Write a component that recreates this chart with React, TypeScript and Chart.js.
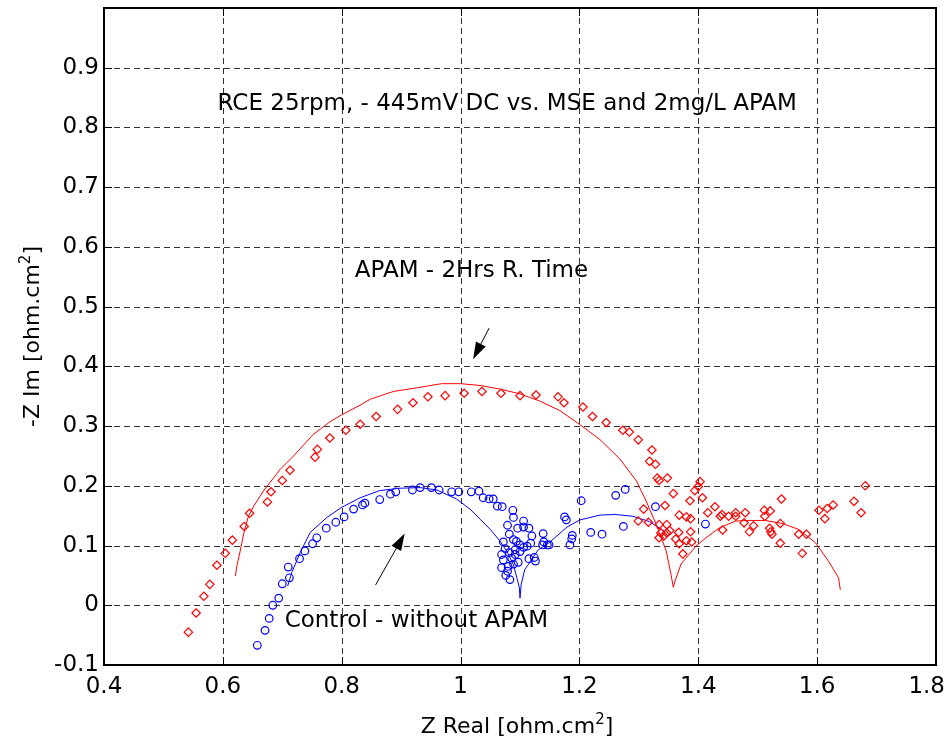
import React, { useEffect, useRef } from "react";
import { Chart, registerables } from "chart.js";

Chart.register(...registerables);

const FONT = "'DejaVu Sans', sans-serif";

const xTicks = [0.4, 0.6, 0.8, 1.0, 1.2, 1.4, 1.6, 1.8];
const xTickLabels = ["0.4", "0.6", "0.8", "1", "1.2", "1.4", "1.6", "1.8"];
const yTicks = [-0.1, 0, 0.1, 0.2, 0.3, 0.4, 0.5, 0.6, 0.7, 0.8, 0.9, 1.0];
const yTickLabels = ["-0.1", "0", "0.1", "0.2", "0.3", "0.4", "0.5", "0.6", "0.7", "0.8", "0.9", ""];

const xTitle = "Z Real [ohm.cm";
const yTitle = "-Z Im [ohm.cm";
const titleSup = "2";
const titleEnd = "]";

// APAM - 2 Hrs: measured (diamonds)
const apamMeasured: [number, number][] = [
  [0.542, -0.045], [0.555, -0.013], [0.568, 0.015], [0.578, 0.035], [0.590, 0.067],
  [0.604, 0.087], [0.616, 0.109], [0.636, 0.132], [0.645, 0.154], [0.675, 0.173],
  [0.681, 0.190], [0.700, 0.209], [0.713, 0.226], [0.755, 0.248], [0.759, 0.261],
  [0.780, 0.280], [0.807, 0.293], [0.831, 0.303], [0.858, 0.316], [0.894, 0.328],
  [0.920, 0.339], [0.945, 0.349], [0.974, 0.351], [1.006, 0.355], [1.036, 0.358],
  [1.068, 0.355], [1.100, 0.351], [1.127, 0.352], [1.164, 0.349], [1.174, 0.339],
  [1.206, 0.332], [1.222, 0.316], [1.245, 0.306], [1.273, 0.293], [1.284, 0.290],
  [1.299, 0.277], [1.322, 0.260], [1.318, 0.241], [1.328, 0.236], [1.331, 0.213],
  [1.334, 0.209], [1.348, 0.213], [1.358, 0.187], [1.308, 0.161], [1.344, 0.167],
  [1.299, 0.141], [1.316, 0.139], [1.334, 0.135], [1.347, 0.135], [1.337, 0.121],
  [1.334, 0.113], [1.342, 0.116], [1.352, 0.125], [1.347, 0.121], [1.368, 0.151],
  [1.367, 0.122], [1.362, 0.111], [1.368, 0.103], [1.374, 0.086], [1.380, 0.108],
  [1.387, 0.123], [1.380, 0.148], [1.387, 0.145], [1.386, 0.175], [1.394, 0.192],
  [1.400, 0.199], [1.403, 0.207], [1.407, 0.180], [1.389, 0.106],
  [1.416, 0.155], [1.428, 0.165], [1.437, 0.149], [1.440, 0.152], [1.441, 0.126],
  [1.451, 0.149], [1.463, 0.155], [1.463, 0.149], [1.477, 0.138], [1.479, 0.155],
  [1.486, 0.123], [1.493, 0.133], [1.511, 0.159], [1.512, 0.149], [1.521, 0.158],
  [1.520, 0.129], [1.522, 0.123], [1.524, 0.119], [1.538, 0.137], [1.538, 0.104],
  [1.540, 0.178], [1.569, 0.119], [1.575, 0.087], [1.582, 0.119], [1.603, 0.159],
  [1.613, 0.145], [1.617, 0.162], [1.627, 0.168], [1.662, 0.174], [1.674, 0.155],
  [1.681, 0.200],
];

// APAM - 2 Hrs: fitted curve
const apamFit: [number, number][] = [
  [0.621, 0.049], [0.624, 0.068], [0.629, 0.090], [0.636, 0.124], [0.643, 0.149],
  [0.652, 0.166], [0.668, 0.191], [0.696, 0.227], [0.719, 0.250], [0.752, 0.286],
  [0.780, 0.307], [0.800, 0.319], [0.831, 0.335], [0.848, 0.345], [0.887, 0.358],
  [0.926, 0.364], [0.968, 0.371], [1.000, 0.371], [1.033, 0.368], [1.066, 0.362],
  [1.100, 0.354], [1.133, 0.342], [1.167, 0.326], [1.200, 0.303], [1.235, 0.277],
  [1.268, 0.245], [1.296, 0.208], [1.312, 0.175], [1.329, 0.136], [1.346, 0.091],
  [1.354, 0.052], [1.358, 0.030], [1.361, 0.041], [1.371, 0.069], [1.396, 0.099],
  [1.413, 0.113], [1.436, 0.130], [1.463, 0.141], [1.484, 0.142], [1.513, 0.142],
  [1.541, 0.137], [1.569, 0.127], [1.597, 0.105], [1.619, 0.074], [1.636, 0.046],
  [1.639, 0.026],
];

// Control: measured (circles)
const controlMeasured: [number, number][] = [
  [0.658, -0.067], [0.671, -0.042], [0.678, -0.022], [0.684, 0.0], [0.694, 0.012],
  [0.700, 0.036], [0.712, 0.046], [0.710, 0.064], [0.729, 0.078], [0.738, 0.091],
  [0.751, 0.103], [0.758, 0.113], [0.774, 0.129], [0.790, 0.139], [0.804, 0.148],
  [0.820, 0.161], [0.835, 0.168], [0.839, 0.171], [0.864, 0.177], [0.882, 0.186],
  [0.891, 0.190], [0.919, 0.193], [0.932, 0.197], [0.951, 0.197], [0.964, 0.193],
  [0.985, 0.190], [0.997, 0.190], [1.018, 0.190], [1.031, 0.191], [1.038, 0.180],
  [1.048, 0.178], [1.055, 0.178], [1.062, 0.166], [1.070, 0.165], [1.088, 0.159],
  [1.089, 0.147], [1.079, 0.134], [1.106, 0.141], [1.106, 0.131], [1.082, 0.119],
  [1.096, 0.129], [1.115, 0.129], [1.120, 0.116], [1.072, 0.106], [1.089, 0.110],
  [1.092, 0.093], [1.100, 0.101], [1.106, 0.097], [1.112, 0.099], [1.118, 0.104],
  [1.075, 0.095], [1.069, 0.085], [1.072, 0.076], [1.069, 0.063], [1.079, 0.057],
  [1.076, 0.050], [1.083, 0.043], [1.086, 0.079], [1.097, 0.072], [1.089, 0.069],
  [1.080, 0.065], [1.082, 0.088], [1.092, 0.085], [1.100, 0.090], [1.094, 0.107],
  [1.139, 0.120], [1.140, 0.106], [1.146, 0.101], [1.149, 0.101], [1.138, 0.101],
  [1.115, 0.078], [1.124, 0.080], [1.126, 0.074], [1.175, 0.148], [1.178, 0.143],
  [1.188, 0.117], [1.187, 0.111], [1.184, 0.101], [1.203, 0.175], [1.261, 0.184],
  [1.277, 0.194], [1.274, 0.132], [1.219, 0.122], [1.238, 0.119], [1.328, 0.165],
  [1.412, 0.136],
];

// Control: fitted curve
const controlFit: [number, number][] = [
  [0.709, 0.032], [0.716, 0.055], [0.730, 0.088], [0.747, 0.122], [0.775, 0.147],
  [0.800, 0.164], [0.831, 0.180], [0.864, 0.192], [0.898, 0.196], [0.932, 0.197],
  [0.960, 0.193], [0.993, 0.178], [1.016, 0.161], [1.033, 0.144], [1.050, 0.127],
  [1.066, 0.108], [1.078, 0.090], [1.089, 0.068], [1.095, 0.045], [1.099, 0.029],
  [1.100, 0.012], [1.102, 0.035], [1.108, 0.060], [1.114, 0.068], [1.120, 0.078],
  [1.131, 0.093], [1.148, 0.104], [1.162, 0.116], [1.179, 0.131], [1.201, 0.143],
  [1.235, 0.151], [1.260, 0.152], [1.290, 0.149], [1.318, 0.140], [1.343, 0.124],
];

// annotations (anchor in data units, left edge / vertical middle)
const noteTexts = [
  "RCE 25rpm, - 445mV DC vs. MSE and 2mg/L APAM",
  "APAM - 2Hrs R. Time",
  "Control - without APAM",
];
const noteX = [0.591, 0.822, 0.704];
const noteY = [0.839, 0.559, -0.026];

// arrows: tail -> head, in data units
const arrowTail: [number, number][] = [[1.048, 0.464], [0.857, 0.034]];
const arrowHead: [number, number][] = [[1.021, 0.412], [0.906, 0.120]];

const toXY = (arr: [number, number][]) => arr.map(([x, y]) => ({ x, y }));

function drawArrow(ctx: CanvasRenderingContext2D, x1: number, y1: number, x2: number, y2: number) {
  const ang = Math.atan2(y2 - y1, x2 - x1);
  const L = 17;
  const W = 5.5;
  const c = Math.cos(ang);
  const s = Math.sin(ang);
  ctx.beginPath();
  ctx.moveTo(x1, y1);
  ctx.lineTo(x2 - L * 0.7 * c, y2 - L * 0.7 * s);
  ctx.stroke();
  ctx.beginPath();
  ctx.moveTo(x2, y2);
  ctx.lineTo(x2 - L * c + W * s, y2 - L * s - W * c);
  ctx.lineTo(x2 - L * c - W * s, y2 - L * s + W * c);
  ctx.closePath();
  ctx.fill();
}

function drawTitle(ctx: CanvasRenderingContext2D, main: string, cx: number, base: number) {
  ctx.font = `22px ${FONT}`;
  const w1 = ctx.measureText(main).width;
  ctx.font = `15px ${FONT}`;
  const w2 = ctx.measureText(titleSup).width;
  ctx.font = `22px ${FONT}`;
  const w3 = ctx.measureText(titleEnd).width;
  const total = w1 + w2 + w3;
  let x = cx - total / 2;
  ctx.textAlign = "left";
  ctx.textBaseline = "alphabetic";
  ctx.fillText(main, x, base);
  x += w1;
  ctx.font = `15px ${FONT}`;
  ctx.fillText(titleSup, x, base - 9);
  x += w2;
  ctx.font = `22px ${FONT}`;
  ctx.fillText(titleEnd, x, base);
}

const framePlugin = {
  id: "matlabFrame",
  beforeDatasetsDraw(chart: any) {
    const { ctx, chartArea: a, scales } = chart;
    const xs = scales.x;
    const ys = scales.y;
    ctx.save();
    ctx.strokeStyle = "#333";
    ctx.lineWidth = 1;
    ctx.setLineDash([6, 4]);
    xTicks.forEach((v) => {
      const px = Math.round(xs.getPixelForValue(v)) + 0.5;
      if (px < a.left + 2 || px > a.right - 2) return;
      ctx.beginPath();
      ctx.moveTo(px, a.top);
      ctx.lineTo(px, a.bottom);
      ctx.stroke();
    });
    yTicks.forEach((v) => {
      const py = Math.round(ys.getPixelForValue(v)) + 0.5;
      if (py < a.top + 2 || py > a.bottom - 2) return;
      ctx.beginPath();
      ctx.moveTo(a.left, py);
      ctx.lineTo(a.right, py);
      ctx.stroke();
    });
    ctx.restore();
  },
  afterDatasetsDraw(chart: any) {
    const { ctx, chartArea: a, scales, width } = chart;
    const xs = scales.x;
    const ys = scales.y;
    ctx.save();
    ctx.setLineDash([]);
    ctx.strokeStyle = "#000";
    ctx.fillStyle = "#000";
    // inward ticks
    ctx.lineWidth = 1;
    const tl = 8;
    xTicks.forEach((v) => {
      const px = Math.round(xs.getPixelForValue(v)) + 0.5;
      ctx.beginPath();
      ctx.moveTo(px, a.bottom);
      ctx.lineTo(px, a.bottom - tl);
      ctx.moveTo(px, a.top);
      ctx.lineTo(px, a.top + tl);
      ctx.stroke();
    });
    yTicks.forEach((v) => {
      const py = Math.round(ys.getPixelForValue(v)) + 0.5;
      ctx.beginPath();
      ctx.moveTo(a.left, py);
      ctx.lineTo(a.left + tl, py);
      ctx.moveTo(a.right, py);
      ctx.lineTo(a.right - tl, py);
      ctx.stroke();
    });
    // box
    ctx.lineWidth = 2;
    ctx.strokeRect(Math.round(a.left), Math.round(a.top), Math.round(a.right - a.left), Math.round(a.bottom - a.top));

    // x tick labels (kept inside the canvas like MATLAB does for the last one)
    ctx.font = `23px ${FONT}`;
    ctx.textAlign = "center";
    ctx.textBaseline = "middle";
    xTicks.forEach((v, i) => {
      const w = ctx.measureText(xTickLabels[i]).width;
      let cx = xs.getPixelForValue(v);
      cx = Math.min(cx, width - 3 - w / 2);
      ctx.fillText(xTickLabels[i], cx, a.bottom + 22);
    });

    // annotations
    ctx.font = `23px ${FONT}`;
    ctx.textAlign = "left";
    ctx.textBaseline = "middle";
    noteTexts.forEach((t, i) => {
      ctx.fillText(t, xs.getPixelForValue(noteX[i]), ys.getPixelForValue(noteY[i]));
    });
    ctx.lineWidth = 1;
    arrowTail.forEach((tail, i) => {
      const head = arrowHead[i];
      drawArrow(
        ctx,
        xs.getPixelForValue(tail[0]), ys.getPixelForValue(tail[1]),
        xs.getPixelForValue(head[0]), ys.getPixelForValue(head[1])
      );
    });

    // axis titles
    drawTitle(ctx, xTitle, (a.left + a.right) / 2 - 3, 733);
    ctx.save();
    ctx.translate(39, (a.top + a.bottom) / 2);
    ctx.rotate(-Math.PI / 2);
    drawTitle(ctx, yTitle, 0, 0);
    ctx.restore();
    ctx.restore();
  },
};

export default function App() {
  const ref = useRef<HTMLCanvasElement | null>(null);

  useEffect(() => {
    if (!ref.current) return;
    const chart = new Chart(ref.current, {
      type: "scatter",
      data: {
        datasets: [
          {
            label: "APAM measured",
            data: toXY(apamMeasured),
            showLine: false,
            pointStyle: "rectRot",
            pointRadius: 4.2,
            borderColor: "#ff0000",
            backgroundColor: "rgba(0,0,0,0)",
            pointBorderWidth: 1.2,
          },
          {
            label: "APAM fit",
            data: toXY(apamFit),
            showLine: true,
            pointRadius: 0,
            borderColor: "#ff0000",
            borderWidth: 1,
            tension: 0,
          },
          {
            label: "Control measured",
            data: toXY(controlMeasured),
            showLine: false,
            pointStyle: "circle",
            pointRadius: 3.8,
            borderColor: "#0000ff",
            backgroundColor: "rgba(0,0,0,0)",
            pointBorderWidth: 1.2,
          },
          {
            label: "Control fit",
            data: toXY(controlFit),
            showLine: true,
            pointRadius: 0,
            borderColor: "#0000ff",
            borderWidth: 1,
            tension: 0,
          },
        ],
      },
      options: {
        animation: false,
        responsive: false,
        devicePixelRatio: 1,
        layout: { padding: { top: 8, right: 12, left: 0, bottom: 0 } },
        plugins: {
          legend: { display: false },
          tooltip: { enabled: false },
          title: { display: false },
        },
        scales: {
          x: {
            type: "linear",
            min: 0.4,
            max: 1.8,
            grid: { display: false, drawTicks: false },
            border: { display: false },
            afterBuildTicks: (s: any) => {
              s.ticks = xTicks.map((v) => ({ value: v }));
            },
            afterFit: (s: any) => {
              s.height = 74;
              s.paddingLeft = 0;
              s.paddingRight = 0;
            },
            ticks: { display: false },
          },
          y: {
            type: "linear",
            min: -0.1,
            max: 1.0,
            grid: { display: false, drawTicks: false },
            border: { display: false },
            afterBuildTicks: (s: any) => {
              s.ticks = yTicks.map((v) => ({ value: v }));
            },
            afterFit: (s: any) => {
              s.width = 104;
              s.paddingTop = 0;
              s.paddingBottom = 0;
            },
            ticks: {
              color: "#000",
              font: { family: FONT, size: 23 },
              padding: 5,
              autoSkip: false,
              callback: (_v: any, i: number) => yTickLabels[i],
            },
          },
        },
      },
      plugins: [framePlugin],
    } as any);
    return () => chart.destroy();
  }, []);

  return (
    <div style={{ position: "absolute", left: 0, top: 0, width: 948, height: 739, background: "#fff" }}>
      <canvas ref={ref} width={948} height={739} style={{ display: "block" }} />
    </div>
  );
}
